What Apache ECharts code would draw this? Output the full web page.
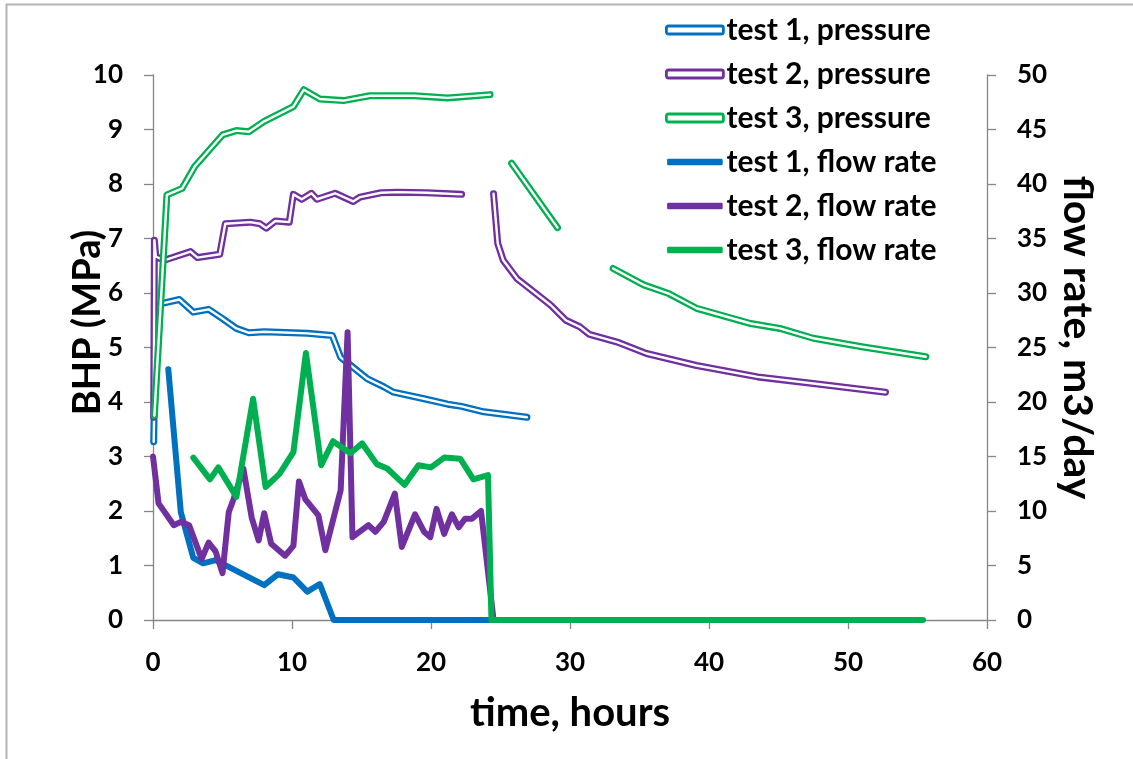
<!DOCTYPE html>
<html>
<head>
<meta charset="utf-8">
<script src="https://cdn.jsdelivr.net/npm/echarts@6/dist/echarts.min.js"></script>
<style>
html,body{margin:0;padding:0;background:#fff;}
#chart{width:1133px;height:759px;}
</style>
</head>
<body>
<div id="chart"></div>
<script>
// ---- data (time in hours; pressure in MPa; flow rate in m3/day) ----
var xTicks = [0, 10, 20, 30, 40, 50, 60];
var leftTicks = [0,1,2,3,4,5,6,7,8,9,10];
var rightTicks = [0,5,10,15,20,25,30,35,40,45,50];

var t1PressureTime  = [0.05, 0.2, 0.5, 1.9, 2.9, 4.0, 5.0, 6.0, 6.9, 8.0, 11.1, 12.9, 13.5, 15.4, 16.6, 17.3, 19.5, 21.2, 22.2, 23.8, 26.9];
var t1PressureValue = [3.27, 5.7, 5.8, 5.88, 5.65, 5.7, 5.53, 5.35, 5.27, 5.29, 5.26, 5.22, 4.82, 4.43, 4.28, 4.18, 4.06, 3.96, 3.92, 3.82, 3.72];

var t2PressureTime  = [0.05, 0.1, 0.2, 0.8, 2.7, 3.2, 4.8, 5.2, 7.0, 7.7, 8.15, 8.8, 9.8, 10.1, 10.7, 11.4, 11.8, 13.1, 14.4, 14.9, 16.4, 17.6, 19.7, 22.2, 23.3, 24.5, 24.8, 25.2, 26.2, 28.6, 29.7, 30.7, 31.4, 33.4, 35.5, 39.1, 43.5, 47.5, 52.7];
var t2PressureValue = [3.72, 6.97, 6.67, 6.6, 6.76, 6.65, 6.71, 7.27, 7.30, 7.27, 7.19, 7.32, 7.30, 7.81, 7.72, 7.83, 7.72, 7.83, 7.68, 7.76, 7.84, 7.85, 7.84, 7.81, null, 7.82, 6.91, 6.6, 6.26, 5.78, 5.5, 5.38, 5.24, 5.10, 4.89, 4.67, 4.46, 4.34, 4.18];

var t3PressureTime  = [0.1, 1.0, 2.1, 3.0, 5.0, 6.0, 6.9, 8.0, 10.1, 10.85, 12.0, 13.7, 15.6, 18.8, 21.2, 24.25, 25.0, 25.8, 29.1, 31.0, 33.1, 35.3, 37.1, 39.1, 43.0, 45.1, 47.5, 51.1, 55.6];
var t3PressureValue = [3.75, 7.8, 7.92, 8.32, 8.9, 8.98, 8.96, 9.15, 9.42, 9.73, 9.56, 9.53, 9.62, 9.62, 9.58, 9.64, null, 8.38, 7.2, null, 6.45, 6.15, 5.99, 5.72, 5.44, 5.35, 5.17, 5.01, 4.83];

var t1FlowTime  = [1.1, 2.0, 2.9, 3.6, 4.5, 8.0, 9.0, 10.1, 11.1, 12.0, 13.0, 27.0];
var t1FlowValue = [23.0, 9.9, 5.7, 5.2, 5.5, 3.2, 4.2, 3.9, 2.6, 3.3, 0, 0];

var t2FlowTime  = [0, 0.4, 1.5, 2.0, 2.6, 3.5, 4.0, 4.5, 5.0, 5.45, 5.8, 6.5, 7.1, 7.6, 8.0, 8.5, 9.5, 10.1, 10.5, 10.95, 11.9, 12.4, 13.5, 14.0, 14.35, 15.5, 16.0, 16.6, 17.4, 17.9, 18.85, 19.5, 19.95, 20.4, 20.95, 21.5, 22.0, 22.45, 22.95, 23.6, 24.5];
var t2FlowValue = [15.0, 10.7, 8.7, 9.0, 8.7, 5.6, 7.1, 6.3, 4.3, 9.9, 11.1, 13.9, 9.4, 7.3, 9.8, 7.0, 5.9, 6.8, 12.7, 11.1, 9.6, 6.4, 11.9, 26.4, 7.6, 8.7, 8.1, 9.0, 11.6, 6.7, 9.7, 8.1, 7.6, 10.2, 7.9, 9.7, 8.5, 9.3, 9.3, 10.0, 0];

var t3FlowTime  = [2.9, 4.1, 4.7, 6.0, 7.2, 8.1, 9.1, 10.1, 11.0, 12.1, 12.95, 14.2, 15.05, 16.1, 16.85, 18.1, 19.1, 20.0, 20.95, 22.1, 23.05, 24.1, 24.35, 55.4];
var t3FlowValue = [14.9, 12.9, 14.0, 11.3, 20.3, 12.2, 13.4, 15.4, 24.5, 14.2, 16.4, 15.3, 16.2, 14.3, 13.9, 12.4, 14.2, 14.0, 14.9, 14.8, 12.9, 13.3, 0, 0];

var seriesNames = ['test 1, pressure','test 2, pressure','test 3, pressure','test 1, flow rate','test 2, flow rate','test 3, flow rate'];
var colors = ['#0070C0', '#7030A0', '#00B050'];

function zip(t, v) {
  return t.map(function (x, i) { return [x, v[i] === null ? '-' : v[i]]; });
}

var FONT = 'Lato';
var axisColor = '#868686';

var pressureSets = [
  zip(t1PressureTime, t1PressureValue),
  zip(t2PressureTime, t2PressureValue),
  zip(t3PressureTime, t3PressureValue)
];
var flowSets = [
  zip(t1FlowTime, t1FlowValue),
  zip(t2FlowTime, t2FlowValue),
  zip(t3FlowTime, t3FlowValue)
];

var series = [];
pressureSets.forEach(function (d, i) {
  series.push({
    name: seriesNames[i], type: 'line', yAxisIndex: 0, data: d,
    symbol: 'none', silent: true, connectNulls: false, z: 2,
    lineStyle: { color: colors[i], width: 7, cap: 'round', join: 'round' },
    itemStyle: { color: colors[i] }
  });
  series.push({
    name: '_core' + i, type: 'line', yAxisIndex: 0, data: d,
    symbol: 'none', silent: true, connectNulls: false, z: 2,
    lineStyle: { color: '#ffffff', width: 2.4, cap: 'round', join: 'round' },
    itemStyle: { color: '#ffffff' }
  });
});
flowSets.forEach(function (d, i) {
  series.push({
    name: seriesNames[3 + i], type: 'line', yAxisIndex: 1, data: d,
    symbol: 'none', silent: true, z: 3,
    lineStyle: { color: colors[i], width: 6, cap: 'round', join: 'round' },
    itemStyle: { color: colors[i] }
  });
});

var legendData = seriesNames.map(function (n, i) {
  if (i < 3) {
    return { name: n, icon: 'roundRect', itemStyle: { color: '#ffffff', borderColor: colors[i], borderWidth: 2.8 } };
  }
  return { name: n, icon: 'roundRect', itemStyle: { color: colors[i - 3], borderColor: '#ffffff', borderWidth: 1.4 } };
});

var chart = echarts.init(document.getElementById('chart'), null, { renderer: 'canvas' });
chart.setOption({
  animation: false,
  backgroundColor: '#ffffff',
  textStyle: { fontFamily: FONT },
  graphic: [{
    type: 'rect', silent: true, z: -10,
    shape: { x: 6.5, y: 4.5, width: 1200, height: 800 },
    style: { fill: 'none', stroke: '#b4b4b4', lineWidth: 2 }
  }],
  grid: { left: 153, right: 146, top: 75, bottom: 139, containLabel: false },
  legend: {
    orient: 'vertical', left: 665, top: 15, padding: 0,
    itemWidth: 57, itemHeight: 8, itemGap: 14,
    textStyle: { fontFamily: FONT, fontWeight: 'bold', fontSize: 30, color: '#000', padding: [0, 0, 0, -2] },
    data: legendData,
    selectedMode: false
  },
  xAxis: {
    type: 'value', min: 0, max: 60, interval: 10,
    name: 'time, hours', nameLocation: 'middle', nameGap: 73, nameMoveOverlap: false,
    nameTextStyle: { fontFamily: FONT, fontWeight: 'bold', fontSize: 40, color: '#000' },
    axisLine: { show: true, onZero: false, lineStyle: { color: axisColor, width: 1.3 } },
    axisTick: { show: true, inside: false, length: 9, lineStyle: { color: axisColor, width: 1.3 } },
    axisLabel: { margin: 30, fontFamily: FONT, fontWeight: 'bold', fontSize: 26, color: '#000',
      formatter: function (v) { return xTicks.indexOf(v) >= 0 ? String(v) : ''; } },
    splitLine: { show: false }
  },
  yAxis: [{
    type: 'value', position: 'left', min: 0, max: 10, interval: 1,
    name: 'BHP (MPa)', nameLocation: 'middle', nameGap: 46, nameRotate: 90, nameMoveOverlap: false,
    nameTextStyle: { fontFamily: FONT, fontWeight: 'bold', fontSize: 38, color: '#000', padding: [0, 0, 0, 50] },
    axisLine: { show: true, onZero: false, lineStyle: { color: axisColor, width: 1.3 } },
    axisTick: { show: true, inside: false, length: 9, lineStyle: { color: axisColor, width: 1.3 } },
    axisLabel: { margin: 30, fontFamily: FONT, fontWeight: 'bold', fontSize: 26, color: '#000',
      formatter: function (v) { return leftTicks.indexOf(v) >= 0 ? String(v) : ''; } },
    splitLine: { show: false }
  }, {
    type: 'value', position: 'right', min: 0, max: 50, interval: 5,
    name: 'flow rate, m3/day', nameLocation: 'middle', nameGap: 70, nameRotate: -90, nameMoveOverlap: false,
    nameTextStyle: { fontFamily: FONT, fontWeight: 'bold', fontSize: 41, color: '#000', padding: [0, 20, 0, 0] },
    axisLine: { show: true, onZero: false, lineStyle: { color: axisColor, width: 1.3 } },
    axisTick: { show: true, inside: false, length: 9, lineStyle: { color: axisColor, width: 1.3 } },
    axisLabel: { margin: 30, fontFamily: FONT, fontWeight: 'bold', fontSize: 26, color: '#000',
      formatter: function (v) { return rightTicks.indexOf(v) >= 0 ? String(v) : ''; } },
    splitLine: { show: false }
  }],
  series: series
});
</script>
</body>
</html>
